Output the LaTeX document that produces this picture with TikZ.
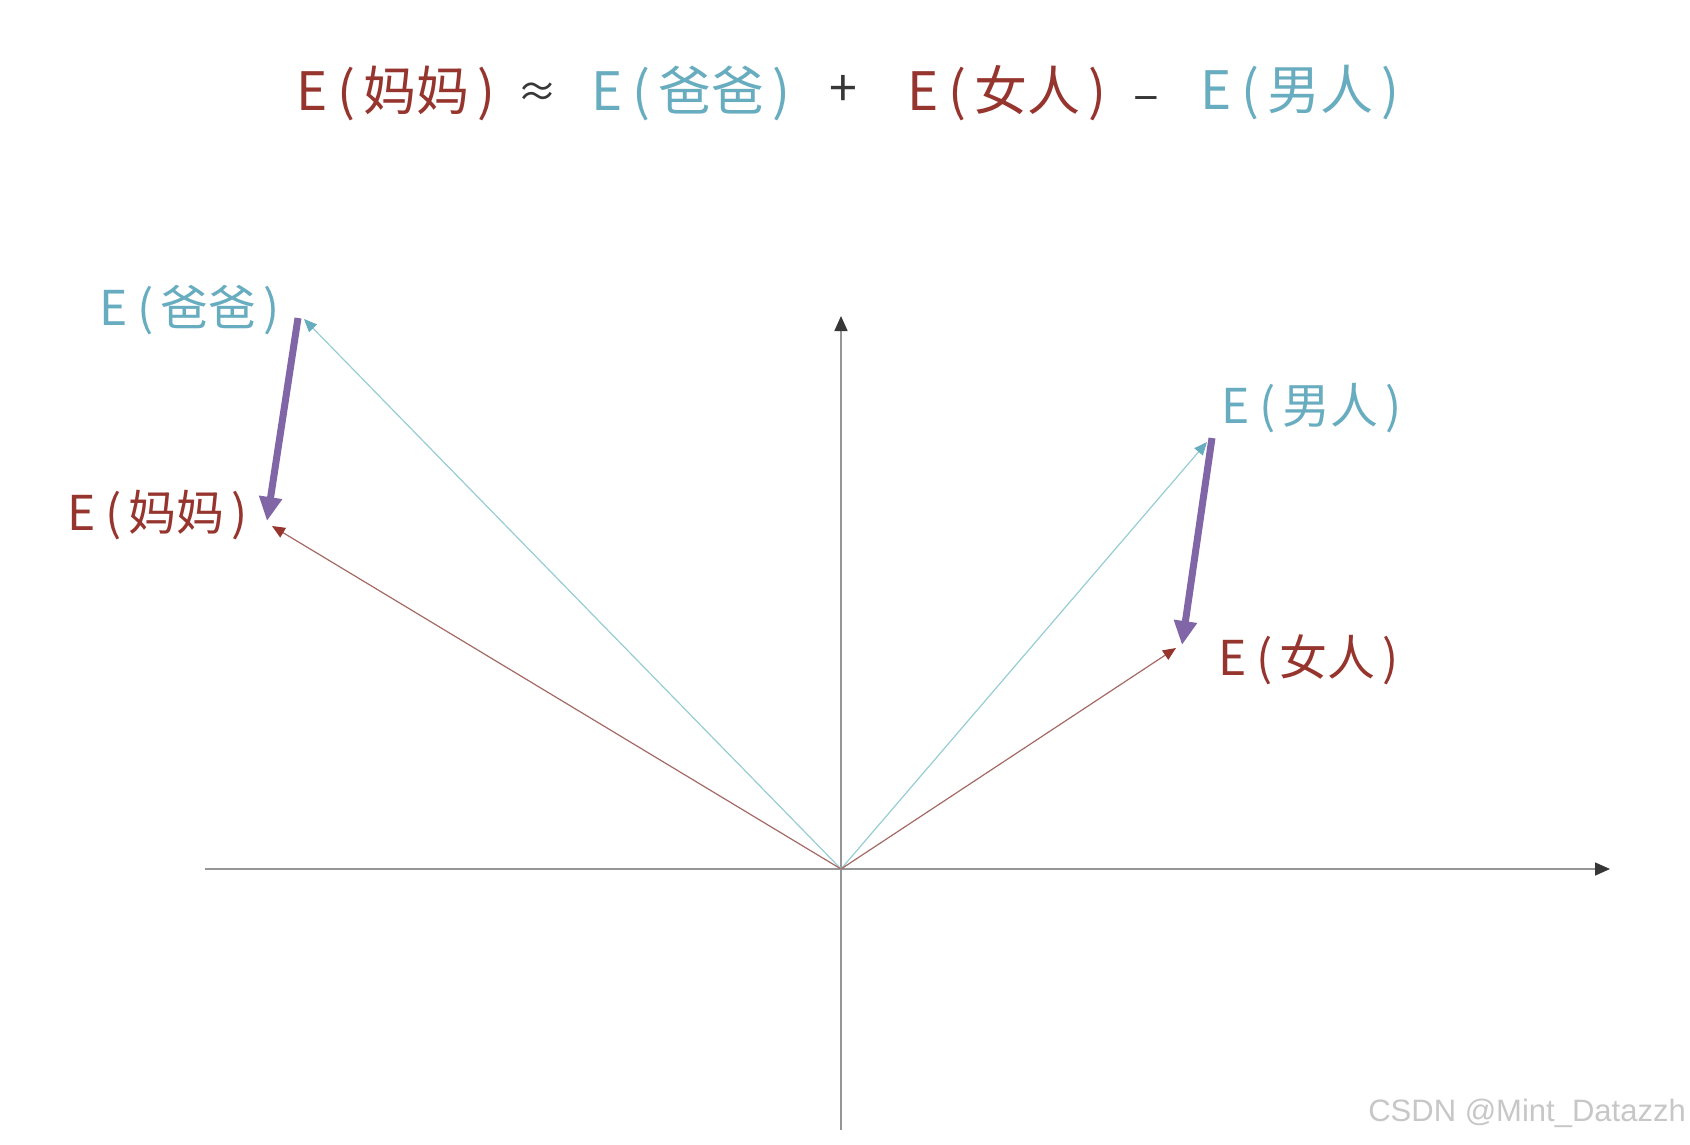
\documentclass[tikz,border=0pt]{standalone}
\usepackage{fontspec}
\setmainfont{Noto Sans CJK SC}
\newfontfamily\wmfont{Liberation Sans}
\usetikzlibrary{arrows.meta}
\definecolor{cred}{RGB}{150,52,46}
\definecolor{ccyan}{RGB}{104,172,192}
\definecolor{cpurple}{RGB}{128,102,166}
\definecolor{lred}{RGB}{165,105,100}
\definecolor{lcyan}{RGB}{150,205,212}
\definecolor{axisgray}{RGB}{150,150,150}
\definecolor{tipgray}{RGB}{55,55,55}
\tikzset{
  titletxt/.style={anchor=west,inner sep=0pt,font=\fontsize{53}{60}\selectfont},
  optxt/.style={anchor=center,inner sep=0pt,text=tipgray,font=\fontsize{40}{46}\selectfont},
  labeltxt/.style={anchor=west,inner sep=0pt,font=\fontsize{48}{54}\selectfont},
  axisline/.style={draw=axisgray,line width=1.6pt,-{Triangle[length=15pt,width=13pt,fill=tipgray,color=tipgray]}},
  redvec/.style={draw=lred,line width=1.2pt,-{Triangle[length=13pt,width=11pt,color=cred]}},
  cyanvec/.style={draw=lcyan,line width=1.2pt,-{Triangle[length=13pt,width=11pt,color=ccyan]}},
  diffvec/.style={draw=cpurple,line width=7pt,-{Triangle[length=24pt,width=22pt]}},
}
\newcommand{\lbl}[2]{E\hspace{0.2em}(\hspace{0.15em}#1#2\hspace{0.15em})}
\begin{document}
\begin{tikzpicture}[x=1pt,y=-1pt]
\useasboundingbox (0,0) rectangle (1690,1144);
% title
\node[titletxt,text=cred]  (t1) at (296,93) {\lbl{妈}{妈}};
\node[optxt] (t2) at (537,95) {≈};
\node[titletxt,text=ccyan] (t3) at (591,93) {\lbl{爸}{爸}};
\node[optxt,font=\fontsize{50}{56}\selectfont] (t4) at (843,91) {+};
\node[titletxt,text=cred]  (t5) at (907,93) {\lbl{女}{人}};
\node[optxt,font=\fontsize{48}{54}\selectfont] (t6) at (1146,104) {–};
\node[titletxt,text=ccyan] (t7) at (1200,93) {\lbl{男}{人}};
% axes
\coordinate (O) at (841,869);
\coordinate (xl) at (205,869);
\coordinate (xr) at (1610,869);
\coordinate (yb) at (841,1130);
\coordinate (yt) at (841,316);
\draw[axisline] (xl) -- (xr);
\draw[axisline] (yb) -- (yt);
% vector tips
\coordinate (B) at (304,319);
\coordinate (M) at (272,526);
\coordinate (N) at (1207,442);
\coordinate (W) at (1176,648);
\draw[cyanvec] (O) -- (B);
\draw[redvec] (O) -- (M);
\draw[cyanvec] (O) -- (N);
\draw[redvec] (O) -- (W);
% difference arrows
\coordinate (p1s) at (298,318);
\coordinate (p1e) at (267,521);
\coordinate (p2s) at (1212,438);
\coordinate (p2e) at (1182,645);
\draw[diffvec] (p1s) -- (p1e);
\draw[diffvec] (p2s) -- (p2e);
% labels
\node[labeltxt,text=ccyan] (lb) at (99,310) {\lbl{爸}{爸}};
\node[labeltxt,text=cred]  (lm) at (67,515) {\lbl{妈}{妈}};
\node[labeltxt,text=ccyan] (ln) at (1221,408) {\lbl{男}{人}};
\node[labeltxt,text=cred]  (lw) at (1218,660) {\lbl{女}{人}};
% watermark
\node[anchor=east,inner sep=0pt,text=black!22,font=\wmfont\fontsize{31}{34}\selectfont] (wm) at (1686,1113) {CSDN @Mint\_Datazzh};
\end{tikzpicture}
\end{document}
